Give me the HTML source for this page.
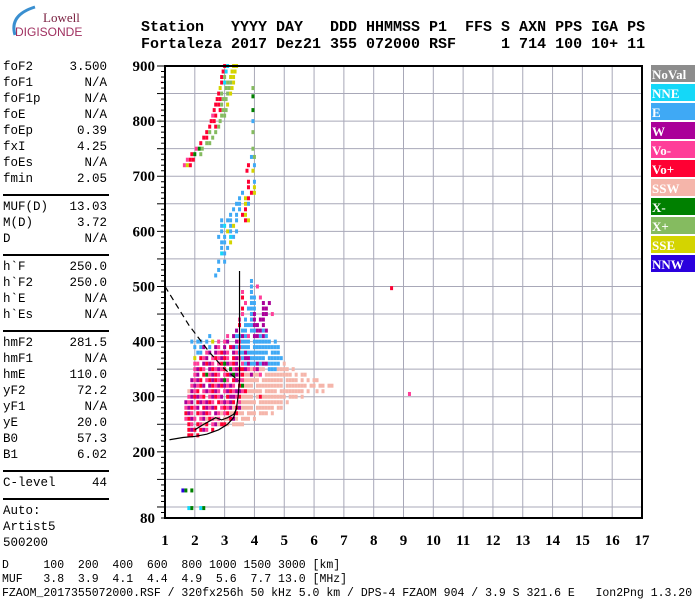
<!DOCTYPE html>
<html><head><meta charset="utf-8">
<style>
body{margin:0;background:#fff;width:700px;height:600px;overflow:hidden;position:relative;font-family:"Liberation Mono",monospace}
.hd{position:absolute;left:141px;font:bold 15px "Liberation Mono",monospace;white-space:pre;color:#000}
.lp{position:absolute;left:3px;width:104px;font:12.5px "Liberation Mono",monospace;white-space:pre}
.lp span{position:absolute;right:0}
.hr{position:absolute;left:3px;width:106px;height:0;border-top:2px solid #000}
.bt{position:absolute;left:2px;font:11.5px "Liberation Mono",monospace;white-space:pre}
</style></head><body>
<div style="position:absolute;left:3px;top:3px;width:80px;height:36px">
<svg width="80" height="36"><path d="M12 32 Q6 12 32 4" stroke="#3a8fd0" stroke-width="3" fill="none"/>
<text x="40" y="19" font-family="Liberation Serif,serif" font-size="13" fill="#7a2040">Lowell</text>
<text x="12" y="33" font-family="Liberation Sans,sans-serif" font-size="12" fill="#a03060">DIGISONDE</text></svg></div>
<div class="hd" style="top:19px">Station   YYYY DAY   DDD HHMMSS P1  FFS S AXN PPS IGA PS</div>
<div class="hd" style="top:36px">Fortaleza 2017 Dez21 355 072000 RSF     1 714 100 10+ 11</div>
<div id="lp"></div>
<div class="bt" style="top:559px">D     100  200  400  600  800 1000 1500 3000 [km]</div>
<div class="bt" style="top:573px">MUF   3.8  3.9  4.1  4.4  4.9  5.6  7.7 13.0 [MHz]</div>
<div class="bt" style="top:587px">FZAOM_2017355072000.RSF / 320fx256h 50 kHz 5.0 km / DPS-4 FZAOM 904 / 3.9 S 321.6 E   Ion2Png 1.3.20</div>
<svg id="ch" width="700" height="600" style="position:absolute;left:0;top:0"></svg>
<script>
const params=[["foF2","3.500"],["foF1","N/A"],["foF1p","N/A"],["foE","N/A"],["foEp","0.39"],["fxI","4.25"],["foEs","N/A"],["fmin","2.05"],null,["MUF(D)","13.03"],["M(D)","3.72"],["D","N/A"],null,["h`F","250.0"],["h`F2","250.0"],["h`E","N/A"],["h`Es","N/A"],null,["hmF2","281.5"],["hmF1","N/A"],["hmE","110.0"],["yF2","72.2"],["yF1","N/A"],["yE","20.0"],["B0","57.3"],["B1","6.02"],null,["C-level","44"],null,["Auto:",""],["Artist5",""],["500200",""]];
const legendNames=["NoVal","NNE","E","W","Vo-","Vo+","SSW","X-","X+","SSE","NNW"];
const legendColors=["#8c8c8c","#14d8f8","#3fa9f5","#aa0099","#ff3e99","#ff0033","#f5b5aa","#008000","#85bb60","#d4d400","#2a00dd"];
const codeMap={n:1,e:2,w:3,m:4,r:5,s:6,g:7,x:8,y:9,b:10};
const xTicks=[1,2,3,4,5,6,7,8,9,10,11,12,13,14,15,16,17];
const yTicks=[80,200,300,400,500,600,700,800,900];
// echo rows: [height km, start freq MHz, codes per 0.1 MHz]
const echoRows=[
[900,3.0,"rn.yy"],[890,2.95,"rn.yy"],[880,2.9,"rx.yy"],[870,2.9,"rnxxy"],[860,2.85,"y.xxy"],[850,2.8,"rx.xy"],[840,2.75,"rrxx"],[830,2.7,"rrx.y"],[820,2.65,"r.rxx"],[810,2.6,"mr.xx"],[800,2.55,"rr.x"],[790,2.5,"r.rx"],[780,2.4,"rx.x"],[770,2.3,"rr.x"],[760,2.2,"r.xx"],[750,2.05,"mgx"],[740,1.9,"rg.x"],[730,1.75,"mrr"],[720,1.65,"myr"],
[860,3.95,"x"],[845,3.95,"g"],[820,3.95,"g"],[800,3.95,"e"],[780,3.95,"x"],[750,3.95,"x"],[735,3.9,"ex"],
[720,3.8,"r.e"],[710,3.75,"r.y"],[690,3.8,"r.e"],[680,3.8,"r.y"],[670,3.6,"e..ry"],[660,3.5,"e.yr"],[650,3.4,"ee.ye"],[640,3.3,"e.e.r"],[630,3.2,"e.e.ry"],[620,2.9,"e.ee.e..ry"],[610,2.9,"en.ey"],[600,2.9,"e.ye.e"],[590,2.8,"e.e.ne"],[580,2.9,"ee.y"],[570,2.9,"e.e"],[560,2.9,"ne"],[545,2.8,"e.e"],[530,2.8,"e"],[520,2.7,"e"],
[510,3.9,"e"],[500,3.9,"e.m"],[490,3.6,"m..e"],[480,3.6,"r..ee.m"],[470,3.7,"m.ee..w.w"],[460,3.6,"r.eee..ww"],[450,3.6,"m..ew..ww.m"],[440,3.5,"m.e.ew.ww"],[430,3.5,"r.eeeww.w"],[420,3.4,"w.ee.eewwew"],[410,2.5,"e.....m.weewem.wwewe"],
[400,1.5,"....e.ee.e.y.m.mw..wmeee.eeeeee.e"],
[390,1.5,".....e.ew.e.wm.w.rwemeee.eeeeeeeee"],
[380,1.5,"......ee.mw.wmrwm.wmeeweeeeeee.eee"],
[370,1.5,".....y.rmw.mrmwrm.rwmewweeeee.eeeee"],
[360,1.5,".....mm.wrwm.mrgwmrw.meweewewweeee.s"],
[350,1.5,".....mwrm.wrmwmr.gmwrrwmsmwss.eeessss.s"],
[340,1.5,".....mw.rgmwrm.mrwgwmrsswssm.sssssssss.s.ss"],
[330,1.5,"....wmwr.mrwrmwgm.rwmmsssss.sssssss.ssss.s.s.ss"],
[320,1.5,"....mwmrw.wrmwrwmwm.rgsss.sssssssss.sssssss.ss.ss.ss"],
[310,1.5,"...swmr.mwmrwm.mwrmwwmrsssss.ssss.ssssssss.s..s.s"],
[300,1.5,"...mwrwmr.mwrmw.rwwmrssss.srssssssss.sss.s"],
[290,1.5,"..wmw.rwmwrm.rmwmwr.msssss.ssssssss.s"],
[280,1.5,"..mwrmw.rwmwr.mrmwsrwssss.ssssss.ss"],
[270,1.5,"..rwm.rmwrm.wmsmrssrss.sss.sss.s"],
[260,1.5,"..mrwm.mwsrmsm.ssrws.sss.s"],
[250,1.5,"...rm.rmsr.mwsrrs.ssss"],
[240,1.5,"...rwr.rwm.r"],[230,1.5,"...rr.r"],
[497,8.6,"r"],[305,9.2,"m"],[130,1.6,"bg.g"],[98,1.8,"ng..ng"]];
// profile curves (freq, height)
const profileF=[1.15,1.6,2.0,2.4,2.8,3.1,3.3,3.4,3.45,3.5,3.5];
const profileH=[222,226,228,232,240,250,262,280,300,330,528];
const wiggleF=[2.0,2.3,2.5,2.7,2.9,3.1,3.3,3.42];
const wiggleH=[240,250,256,262,258,262,268,280];
const dashF=[1.0,1.8,2.5,3.0,3.5];
const dashH=[500,430,380,350,328];

const L=165,R=642,T=66,B=518;
const X=f=>L+(f-1)*(R-L)/16;
const Y=h=>B-(h-80)*(B-T)/820;
const svg=document.getElementById('ch');const NS="http://www.w3.org/2000/svg";
function mk(t,a,p){const e=document.createElementNS(NS,t);for(const k in a)e.setAttribute(k,a[k]);(p||svg).appendChild(e);return e;}
const lp=document.getElementById('lp');let y=60;
params.forEach(p=>{
 if(!p){const d=document.createElement('div');d.className='hr';d.style.top=(y+6)+'px';
 
 
 lp.appendChild(d);y+=12;return;}
 const d=document.createElement('div');d.className='lp';d.style.top=y+'px';d.textContent=p[0];
 
 
 const s=document.createElement('span');s.textContent=p[1];d.appendChild(s);lp.appendChild(d);y+=16;});
for(let f=2;f<=16;f++){const l=mk('line',{x1:X(f),x2:X(f),y1:T,y2:B,stroke:'#a8a8b8','stroke-width':1});
 
 }
for(let h=100;h<900;h+=50){const l=mk('line',{x1:L,x2:R,y1:Y(h),y2:Y(h),stroke:'#a8a8b8','stroke-width':1});
 
 }
for(let h=80;h<=900;h+=10){const big=h%50==0;mk('line',{x1:L-(big?8:4),x2:L,y1:Y(h),y2:Y(h),stroke:'#000','stroke-width':1});}
echoRows.forEach(r=>{for(let i=0;i<r[2].length;i++){const c=r[2][i];if(c=='.')continue;
 const e=mk('rect',{x:X(r[1]+i*0.1)-1.5,y:Y(r[0])-2,width:3,height:4,fill:legendColors[codeMap[c]]});
 
 }});
function poly(F,H,extra,name){const p=mk('polyline',Object.assign({points:F.map((f,i)=>X(f)+','+Y(H[i])).join(' '),fill:'none',stroke:'#000','stroke-width':1.2},extra));
 
 }
poly(profileF,profileH,{},'profile-curve');
poly(wiggleF,wiggleH,{},'trace-curve');
poly(dashF,dashH,{'stroke-dasharray':'6,4'},'dashed-curve');
const box=mk('rect',{x:L,y:T,width:R-L,height:B-T,fill:'none',stroke:'#000','stroke-width':2});


xTicks.forEach(f=>{const t=mk('text',{x:X(f),y:545,'text-anchor':'middle','font-family':'Liberation Serif,serif','font-weight':'bold','font-size':15});t.textContent=f;
 
 });
yTicks.forEach(h=>{const t=mk('text',{x:155,y:Y(h)+5,'text-anchor':'end','font-family':'Liberation Serif,serif','font-weight':'bold','font-size':15});t.textContent=h;
 
 });
legendNames.forEach((n,i)=>{const g=mk('g',{});
 
 
 mk('rect',{x:651,y:65+i*19,width:44,height:17,fill:legendColors[i]},g);
 const t=mk('text',{x:652,y:79+i*19,fill:'#fff','font-family':'Liberation Serif,serif','font-weight':'bold','font-size':13},g);t.textContent=n;});
</script>
</body></html>
